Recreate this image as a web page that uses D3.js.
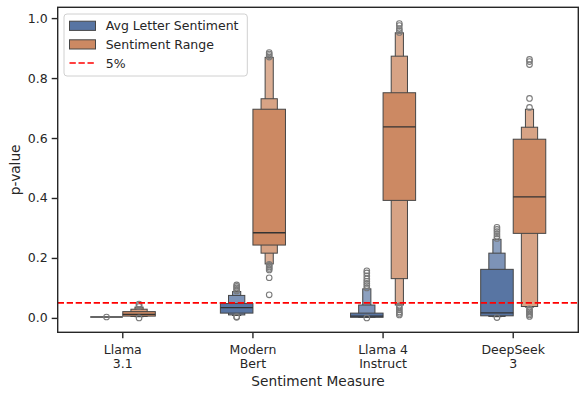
<!DOCTYPE html>
<html>
<head>
<meta charset="utf-8">
<script src="https://cdn.jsdelivr.net/npm/d3@7"></script>
<style>
	body { margin: 0; background: #fff; }
	text { font-family: "DejaVu Sans", sans-serif; fill: #262626; }
</style>
</head>
<body>
<div id="chart"></div>
<script>
// categories and series
const categories = ["Llama\n3.1", "Modern\nBert", "Llama 4\nInstruct", "DeepSeek\n3"];
const seriesNames = ["Avg Letter Sentiment", "Sentiment Range"];
const seriesColors = ["#5875a3", "#cc8963"];

// letter values [lo, hi] per category, innermost (quartiles) first
const avgLetterBoxes = [
	[[0.003, 0.003]],
	[[0.016, 0.048], [0.010, 0.075], [0.008, 0.088]],
	[[0.002, 0.016], [0.002, 0.043], [0.002, 0.097]],
	[[0.007, 0.162], [0.005, 0.216], [0.004, 0.262]]
];
const avgLetterMedians = [0.003, 0.034, 0.006, 0.017];
const avgLetterOutliers = [
	[0.003],
	[0.002, 0.004, 0.090, 0.095, 0.100, 0.105, 0.110],
	[0.000, 0.100, 0.108, 0.115, 0.122, 0.130, 0.140, 0.150, 0.157],
	[0.001, 0.265, 0.272, 0.280, 0.288, 0.295, 0.302]
];

const rangeBoxes = [
	[[0.006, 0.021], [0.005, 0.029], [0.004, 0.036]],
	[[0.243, 0.696], [0.216, 0.731], [0.180, 0.869]],
	[[0.392, 0.751], [0.131, 0.873], [0.043, 0.951]],
	[[0.282, 0.596], [0.038, 0.636], [0.036, 0.696]]
];
const rangeMedians = [0.012, 0.284, 0.637, 0.404];
const rangeOutliers = [
	[0.000, 0.038, 0.042, 0.046],
	[0.077, 0.134, 0.160, 0.165, 0.170, 0.175, 0.179, 0.870, 0.875, 0.880, 0.885],
	[0.010, 0.015, 0.020, 0.027, 0.033, 0.040, 0.952, 0.958, 0.965, 0.975, 0.982],
	[0.005, 0.010, 0.015, 0.020, 0.025, 0.030, 0.702, 0.732, 0.845, 0.855, 0.862]
];

const yTicks = [0.0, 0.2, 0.4, 0.6, 0.8, 1.0];
const threshold = 0.05;
const thresholdLabel = "5%";

const width = 588;
const height = 397;
const margin = {left: 57.7, right: 9.7, top: 7.3, bottom: 64.7};
const edge = "#464646";

const svg = d3.select("#chart")
	.append("svg")
	.attr("width", width)
	.attr("height", height);

const x = d3.scaleBand()
	.domain(categories)
	.range([margin.left, width - margin.right])
	.padding(0);

const y = d3.scaleLinear()
	.domain([-0.048, 1.036])
	.range([height - margin.bottom, margin.top]);

const bw = x.bandwidth();
const boxWidth = bw * 0.25;

// lighter colours for the outer letter values
function levelColor(base, level) {
	return level == 0 ? base : d3.interpolateRgb(base, "#ffffff")(0.12 + level * 0.1);
}

const series = [
	{boxes: avgLetterBoxes, medians: avgLetterMedians, outliers: avgLetterOutliers, offset: -0.125},
	{boxes: rangeBoxes, medians: rangeMedians, outliers: rangeOutliers, offset: 0.125}
];

const plot = svg.append("g");

series.forEach((s, si) => {
	categories.forEach((cat, ci) => {
		const cx = x(cat) + bw / 2 + s.offset * bw;
		const levels = s.boxes[ci].map((d, i) => ({lo: d[0], hi: d[1], level: i}));
		// outer (narrow) boxes first
		plot.append("g")
			.selectAll("rect")
			.data(levels.slice().reverse())
			.enter()
			.append("rect")
			.attr("x", (d) => cx - boxWidth * Math.pow(2, -d.level) / 2)
			.attr("width", (d) => boxWidth * Math.pow(2, -d.level))
			.attr("y", (d) => y(d.hi))
			.attr("height", (d) => Math.max(0, y(d.lo) - y(d.hi)))
			.attr("fill", (d) => levelColor(seriesColors[si], d.level))
			.attr("stroke", edge)
			.attr("stroke-width", 1);

		plot.append("line")
			.attr("x1", cx - boxWidth / 2)
			.attr("x2", cx + boxWidth / 2)
			.attr("y1", y(s.medians[ci]))
			.attr("y2", y(s.medians[ci]))
			.attr("stroke", "#333")
			.attr("stroke-width", 1.3);

		plot.append("g")
			.selectAll("circle")
			.data(s.outliers[ci])
			.enter()
			.append("circle")
			.attr("cx", cx)
			.attr("cy", (d) => y(d))
			.attr("r", 2.8)
			.attr("fill", "none")
			.attr("stroke", "#7a7a7a")
			.attr("stroke-width", 1.1);
	});
});

// 5% line
svg.append("line")
	.attr("x1", margin.left)
	.attr("x2", width - margin.right)
	.attr("y1", y(threshold))
	.attr("y2", y(threshold))
	.attr("stroke", "#ff0000")
	.attr("stroke-width", 1.7)
	.attr("stroke-dasharray", "6.3,2.7");

// axes
const yAxis = svg.append("g")
	.attr("transform", "translate(" + margin.left + ",0)")
	.call(d3.axisLeft(y).tickValues(yTicks).tickFormat(d3.format(".1f")).tickSize(6).tickPadding(4));

const xAxis = svg.append("g")
	.attr("transform", "translate(0," + (height - margin.bottom) + ")")
	.call(d3.axisBottom(x).tickSize(6).tickPadding(4).tickFormat(""));

[yAxis, xAxis].forEach((a) => {
	a.select(".domain").remove();
	a.selectAll(".tick line").attr("stroke", "#262626").attr("stroke-width", 1.4);
	a.selectAll("text").style("font-size", "12.5px").attr("fill", "#262626");
});

xAxis.selectAll(".tick")
	.append("text")
	.attr("text-anchor", "middle")
	.attr("y", 0)
	.style("font-size", "12.5px")
	.selectAll("tspan")
	.data((d) => d.split("\n"))
	.enter()
	.append("tspan")
	.attr("x", 0)
	.attr("y", (d, i) => 21.8 + i * 13.6)
	.text((d) => d);

// frame
svg.append("rect")
	.attr("x", margin.left)
	.attr("y", margin.top)
	.attr("width", width - margin.left - margin.right)
	.attr("height", height - margin.top - margin.bottom)
	.attr("fill", "none")
	.attr("stroke", "#262626")
	.attr("stroke-width", 1.4);

// axis labels
svg.append("text")
	.attr("x", (margin.left + width - margin.right) / 2)
	.attr("y", 386)
	.attr("text-anchor", "middle")
	.style("font-size", "13.7px")
	.text("Sentiment Measure");

svg.append("text")
	.attr("transform", "translate(19.5," + ((margin.top + height - margin.bottom) / 2) + ") rotate(-90)")
	.attr("text-anchor", "middle")
	.style("font-size", "13.7px")
	.text("p-value");

// legend
const legend = svg.append("g");
legend.append("rect")
	.attr("x", 64)
	.attr("y", 14)
	.attr("width", 183.3)
	.attr("height", 62)
	.attr("rx", 3)
	.attr("fill", "#fff")
	.attr("fill-opacity", 0.8)
	.attr("stroke", "#d0d0d0")
	.attr("stroke-width", 1);

seriesNames.forEach((name, i) => {
	const ry = 25.8 + i * 18.6;
	legend.append("rect")
		.attr("x", 69.5)
		.attr("y", ry - 4.6)
		.attr("width", 26)
		.attr("height", 9.2)
		.attr("fill", seriesColors[i])
		.attr("stroke", edge)
		.attr("stroke-width", 1);
	legend.append("text")
		.attr("x", 105.7)
		.attr("y", ry + 4.5)
		.style("font-size", "12.5px")
		.text(name);
});

legend.append("line")
	.attr("x1", 69.5)
	.attr("x2", 95.5)
	.attr("y1", 63)
	.attr("y2", 63)
	.attr("stroke", "#ff0000")
	.attr("stroke-width", 1.7)
	.attr("stroke-dasharray", "6.3,2.7");
legend.append("text")
	.attr("x", 105.7)
	.attr("y", 67.5)
	.style("font-size", "12.5px")
	.text(thresholdLabel);
</script>
</body>
</html>
